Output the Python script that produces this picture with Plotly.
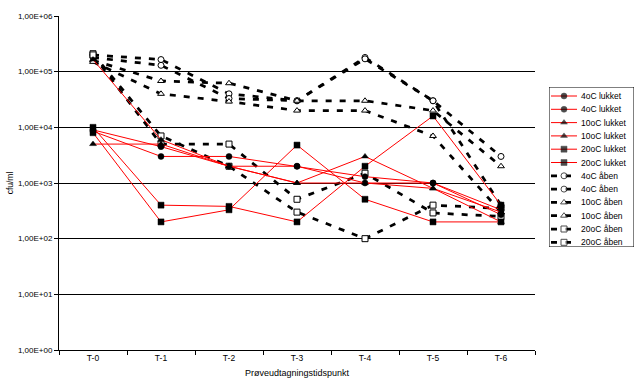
import plotly.graph_objects as go

# ---------------- data ----------------
categories = ["T-0", "T-1", "T-2", "T-3", "T-4", "T-5", "T-6"]

lukket_4oC_a = [9.0e3, 4.5e3, 2.0e3, 2.0e3, 1.0e3, 1.0e3, 3.3e2]
lukket_4oC_b = [8.5e3, 3.0e3, 3.0e3, 2.0e3, 1.3e3, 1.0e3, 2.7e2]
lukket_10oC_a = [1.65e5, 6.0e3, 2.0e3, 1.0e3, 3.0e3, 8.0e2, 2.0e2]
lukket_10oC_b = [5.0e3, 5.0e3, 2.0e3, 1.0e3, 1.0e3, 8.0e2, 3.0e2]
lukket_20oC_a = [1.0e4, 4.0e2, 3.8e2, 2.0e2, 2.0e3, 1.6e4, 4.0e2]
lukket_20oC_b = [8.0e3, 2.0e2, 3.3e2, 4.8e3, 5.1e2, 2.0e2, 2.0e2]

aaben_4oC_a = [2.0e5, 1.65e5, 4.0e4, 3.0e4, 1.8e5, 3.0e4, 3.0e3]
aaben_4oC_b = [1.8e5, 1.3e5, 3.3e4, 3.0e4, 1.7e5, 3.0e4, 4.0e2]
aaben_10oC_a = [1.6e5, 6.8e4, 6.2e4, 3.0e4, 3.0e4, 2.0e4, 2.0e3]
aaben_10oC_b = [1.5e5, 4.0e4, 2.9e4, 2.0e4, 2.0e4, 7.0e3, 3.0e2]
aaben_20oC_a = [2.1e5, 7.0e3, 2.0e3, 3.0e2, 1.0e2, 4.0e2, 3.5e2]
aaben_20oC_b = [2.0e5, 5.0e3, 5.0e3, 5.1e2, 1.5e3, 2.9e2, 2.5e2]

ytick_vals = [1, 10, 100, 1e3, 1e4, 1e5, 1e6]
ytick_text = ["1,00E+00", "1,00E+01", "1,00E+02", "1,00E+03",
              "1,00E+04", "1,00E+05", "1,00E+06"]

x_title = "Prøveudtagningstidspunkt"
y_title = "cfu/ml"

series = [
    ("4oC lukket", lukket_4oC_a, "circle", "closed"),
    ("4oC lukket", lukket_4oC_b, "circle", "closed"),
    ("10oC lukket", lukket_10oC_a, "triangle-up", "closed"),
    ("10oC lukket", lukket_10oC_b, "triangle-up", "closed"),
    ("20oC lukket", lukket_20oC_a, "square", "closed"),
    ("20oC lukket", lukket_20oC_b, "square", "closed"),
    ("4oC åben", aaben_4oC_a, "circle", "open"),
    ("4oC åben", aaben_4oC_b, "circle", "open"),
    ("10oC åben", aaben_10oC_a, "triangle-up", "open"),
    ("10oC åben", aaben_10oC_b, "triangle-up", "open"),
    ("20oC åben", aaben_20oC_a, "square", "open"),
    ("20oC åben", aaben_20oC_b, "square", "open"),
]

FONT = "Arial, Liberation Sans, sans-serif"


def style(kind, symbol):
    if kind == "closed":
        line = dict(color="#FF0000", width=1)
        marker = dict(symbol=symbol, size=6, color="black",
                      line=dict(color="black", width=0.5))
    else:
        line = dict(color="black", width=2.75, dash="6px,8px")
        marker = dict(symbol=symbol, size=6, color="white",
                      line=dict(color="black", width=1))
    return line, marker


fig = go.Figure()

# draw dashed (open) first, red (closed) on top
order = [s for s in series if s[3] == "open"] + [s for s in series if s[3] == "closed"]
for name, vals, sym, kind in order:
    line, marker = style(kind, sym)
    fig.add_trace(go.Scatter(x=categories, y=vals, mode="lines+markers",
                             name=name, line=line, marker=marker,
                             showlegend=False, xaxis="x", yaxis="y"))

# ---------- manual legend (drawn on its own small axes) ----------
row_h = 13.3
for i, (name, vals, sym, kind) in enumerate(series):
    line, marker = style(kind, sym)
    r = 9 + i * row_h
    mk = dict(marker)
    mk["size"] = [0, 6, 0]
    fig.add_trace(go.Scatter(x=[2, 15, 28], y=[r, r, r], mode="lines+markers",
                             line=line, marker=mk, showlegend=False,
                             hoverinfo="skip", xaxis="x2", yaxis="y2"))
    fig.add_annotation(x=30, y=r, xref="x2", yref="y2", text=name,
                       showarrow=False, xanchor="left", yanchor="middle",
                       font=dict(family=FONT, size=8.5, color="black"))

fig.add_shape(type="rect", xref="x2", yref="y2", x0=0, x1=85, y0=0, y1=160,
              line=dict(color="black", width=1), fillcolor="rgba(0,0,0,0)")

W, H = 635, 385
ml, mr, mt, mb = 59, 0, 16, 35
pw = W - ml - mr
ph = H - mt - mb

fig.update_layout(
    width=W, height=H,
    margin=dict(l=ml, r=mr, t=mt, b=mb),
    paper_bgcolor="white", plot_bgcolor="white",
    font=dict(family=FONT, size=9, color="black"),
    xaxis=dict(domain=[0, (535 - ml) / pw], type="category",
               categoryorder="array", categoryarray=categories,
               range=[-0.5, 6.5], tickson="boundaries", ticks="outside",
               ticklen=4, tickcolor="black", showline=True, linecolor="black",
               linewidth=1, showgrid=False, zeroline=False,
               tickfont=dict(family=FONT, size=8.5), fixedrange=True,
               automargin=False,
               title=dict(text=x_title, standoff=7,
                          font=dict(family=FONT, size=9))),
    yaxis=dict(type="log", range=[0, 6], tickvals=ytick_vals,
               ticktext=ytick_text, ticks="outside", ticklen=4,
               tickcolor="black", showline=True, linecolor="black",
               linewidth=1, showgrid=True, gridcolor="black", gridwidth=1,
               zeroline=False, tickfont=dict(family=FONT, size=8),
               fixedrange=True, automargin=False,
               title=dict(text=y_title, standoff=2,
                          font=dict(family=FONT, size=8.5))),
    xaxis2=dict(domain=[(549 - ml) / pw, (634 - ml) / pw], range=[0, 85],
                anchor="y2", visible=False, fixedrange=True),
    yaxis2=dict(domain=[(350 - 247) / ph, (350 - 87) / ph], range=[160, 0],
                anchor="x2", visible=False, fixedrange=True),
)

fig.write_html("out.html",
               config={"displayModeBar": False},
               post_script="document.body.style.margin='0';"
                           "document.body.style.overflow='hidden';")
